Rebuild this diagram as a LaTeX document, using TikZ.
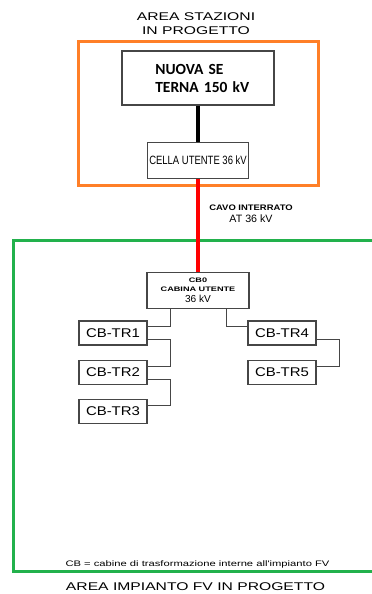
\documentclass[tikz,border=0pt]{standalone}
\usepackage{fontspec}
\setmainfont{Liberation Sans}
\newfontfamily\widesf[FakeStretch=1.4]{Liberation Sans}
\newfontfamily\midsf[FakeStretch=1.18]{Liberation Sans}
\newfontfamily\narrowsf[FakeStretch=0.79]{Liberation Sans}
\newfontfamily\plainsf{Liberation Sans}
\newfontfamily\calsf{Carlito}
\usetikzlibrary{positioning,calc}
\definecolor{areaorange}{RGB}{255,127,39}
\definecolor{areagreen}{RGB}{34,177,76}
\definecolor{boxgray}{RGB}{70,70,70}

\begin{document}
\begin{tikzpicture}[x=0.75pt, y=-0.75pt, node distance=10.5pt,
    box/.style={rectangle, draw=boxgray, line width=0.8pt, fill=white, inner sep=0pt},
    trbox/.style={box, minimum width=51pt, minimum height=18pt, font=\midsf\fontsize{9.5}{11}\selectfont},
    title/.style={inner sep=0pt, align=center, font=\widesf\fontsize{8.4}{10}\selectfont},
    link/.style={draw=boxgray, line width=0.75pt},
    cable/.style={line width=3pt}]

    \useasboundingbox (0,0) rectangle (372,594);

    % Areas
    \draw [areaorange, line width=2.25pt] (78,41) rectangle (318,185);
    \draw [areagreen, line width=2.25pt] (13,240) rectangle (380,571);

    % Nodes
    \node [box, minimum width=114pt, minimum height=40.5pt, text width=64pt, align=left,
        font=\calsf\bfseries\fontsize{11.6}{13.5}\selectfont] (nuova) at (198,78) {\mbox{NUOVA SE}\\\mbox{TERNA 150 kV}};
    \node [box, minimum width=75.75pt, minimum height=27pt, font=\narrowsf\fontsize{9}{10}\selectfont,
        below=27pt of nuova] (cella) {CELLA UTENTE 36 kV};
    \node [box, minimum width=76.5pt, minimum height=27pt, align=center,
        font=\widesf\bfseries\fontsize{4.9}{6.75}\selectfont,
        below=69.75pt of cella] (cb0) {CB0\\CABINA UTENTE\\[1.5pt]{\plainsf\mdseries\fontsize{7.6}{8}\selectfont 36 kV}};
    \node [trbox] (tr1) at (113,333) {CB-TR1};
    \node [trbox, below=of tr1] (tr2) {CB-TR2};
    \node [trbox, below=of tr2] (tr3) {CB-TR3};
    \node [trbox] (tr4) at (282,333) {CB-TR4};
    \node [trbox, below=of tr4] (tr5) {CB-TR5};

    % Labels
    \node [title, anchor=north] (stazioni) at (196,12.7) {AREA STAZIONI\\IN PROGETTO};
    \node [inner sep=0pt, align=center, anchor=north, font=\midsf\bfseries\fontsize{6}{9}\selectfont]
        (cavo) at (251,204.3) {CAVO INTERRATO\\{\plainsf\mdseries\fontsize{8}{9}\selectfont AT 36 kV}};
    \node [inner sep=0pt, anchor=base, font=\widesf\fontsize{6}{7}\selectfont]
        (legenda) at (197.5,566) {CB = cabine di trasformazione interne all'impianto FV};
    \node [title, anchor=base] (impianto) at (195.5,590.7) {AREA IMPIANTO FV IN PROGETTO};

    % Paths
    \draw [cable, black] (nuova) -- (cella);
    \draw [cable, red] (cella) -- (cb0);
    \draw [link] ([xshift=-21pt]cb0.south) |- ([yshift=5.25pt]tr1.east);
    \draw [link] ([yshift=-4.5pt]tr1.east) -- ++(17.25pt,0) |- ([yshift=4.5pt]tr2.east);
    \draw [link] ([yshift=-5.25pt]tr2.east) -- ++(17.25pt,0) |- ([yshift=4.5pt]tr3.east);
    \draw [link] ([xshift=21pt]cb0.south) |- ([yshift=5.25pt]tr4.west);
    \draw [link] ([yshift=-4.5pt]tr4.east) -- ++(17.25pt,0) |- ([yshift=4.5pt]tr5.east);

\end{tikzpicture}
\end{document}
